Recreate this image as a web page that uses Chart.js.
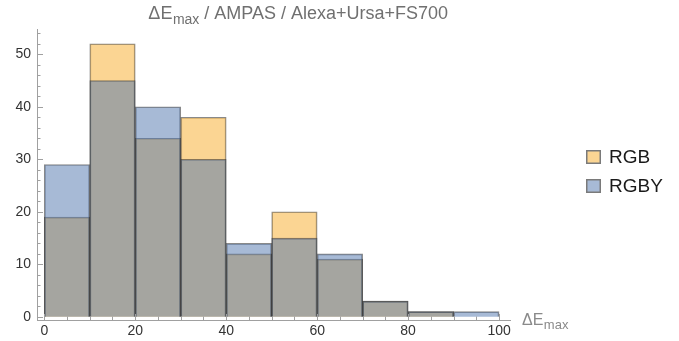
<!DOCTYPE html>
<html>
<head>
<meta charset="utf-8">
<script src="https://cdn.jsdelivr.net/npm/chart.js@4/dist/chart.umd.min.js"></script>
<style>
  html, body { margin: 0; padding: 0; background: #fff; }
  #wrap { width: 679px; height: 341px; position: relative; }
</style>
</head>
<body>
<div id="wrap"><canvas id="c"></canvas></div>
<script>
// Histogram bins (ΔE_max, width 10) — bin centres
const binCenters = [5, 15, 25, 35, 45, 55, 65, 75, 85, 95];
// Counts per bin
const rgbCounts  = [19, 52, 34, 38, 12, 20, 11, 3, 1, 0];
const rgbyCounts = [29, 45, 40, 30, 14, 15, 12, 3, 1, 1];
const seriesNames = ['RGB', 'RGBY'];
// Axis ticks
const xMajorTicks = [0, 20, 40, 60, 80, 100];
const yMajorTicks = [0, 10, 20, 30, 40, 50];
const xMinorStep = 5;
const yMinorStep = 2;

const FONT = '"Liberation Sans", Arial, sans-serif';
const fills = ['rgba(247,172,40,0.5)', 'rgba(80,117,174,0.5)'];
const swatchFills = ['rgb(251,213,147)', 'rgb(167,186,214)'];
const AXIS_COLOR = '#a0a0a0';

function toPoints(vals) {
  return binCenters.map((x, i) => ({ x: x, y: vals[i] }));
}

// Draws "ΔE" with a subscript "max", followed by optional trailing text
function drawSubText(ctx, x, y, size, subSize, subDrop, tail, color, align) {
  ctx.save();
  ctx.fillStyle = color;
  ctx.textBaseline = 'alphabetic';
  ctx.font = size + 'px ' + FONT;
  const w1 = ctx.measureText('ΔE').width;
  ctx.font = subSize + 'px ' + FONT;
  const w2 = ctx.measureText('max').width;
  ctx.font = size + 'px ' + FONT;
  const w3 = tail ? ctx.measureText(tail).width : 0;
  const total = w1 + w2 + w3;
  const sx = align === 'center' ? x - total / 2 : x;
  ctx.textAlign = 'left';
  ctx.fillText('ΔE', sx, y);
  ctx.font = subSize + 'px ' + FONT;
  ctx.fillText('max', sx + w1 + 0.5, y + subDrop);
  if (tail) {
    ctx.font = size + 'px ' + FONT;
    ctx.fillText(tail, sx + w1 + w2 + 0.5, y);
  }
  ctx.restore();
}

const decorations = {
  id: 'decorations',
  afterDraw(chart) {
    const ctx = chart.ctx;
    const xs = chart.scales.x, ys = chart.scales.y;
    const area = chart.chartArea;
    ctx.save();
    ctx.strokeStyle = AXIS_COLOR;
    ctx.lineWidth = 1;
    // x ticks pointing up into the plot
    for (let v = 0; v <= 100; v += xMinorStep) {
      const px = Math.round(xs.getPixelForValue(v)) + 0.5;
      const len = (v % 20 === 0) ? 6 : 3.5;
      ctx.beginPath();
      ctx.moveTo(px, area.bottom);
      ctx.lineTo(px, area.bottom - len);
      ctx.stroke();
    }
    // y ticks pointing right into the plot
    for (let v = 0; v <= 54; v += yMinorStep) {
      const py = Math.round(ys.getPixelForValue(v)) + 0.5;
      const len = (v % 10 === 0) ? 6 : 3.5;
      ctx.beginPath();
      ctx.moveTo(area.left, py);
      ctx.lineTo(area.left + len, py);
      ctx.stroke();
    }
    ctx.restore();

    // title
    drawSubText(ctx, 298, 19, 18, 14, 5, ' / AMPAS / Alexa+Ursa+FS700', '#707070', 'center');
    // x axis label
    drawSubText(ctx, 522, 325, 16, 13, 4, '', '#8a8a8a', 'left');

    // legend
    ctx.save();
    const lx = 586, ly = [150, 179];
    seriesNames.forEach((name, i) => {
      ctx.fillStyle = swatchFills[i];
      ctx.fillRect(lx, ly[i], 15, 14);
      ctx.strokeStyle = '#7a7a7a';
      ctx.lineWidth = 1.5;
      ctx.strokeRect(lx + 0.75, ly[i] + 0.75, 13.5, 12.5);
      ctx.fillStyle = '#1a1a1a';
      ctx.font = '19px ' + FONT;
      ctx.textBaseline = 'middle';
      ctx.textAlign = 'left';
      ctx.fillText(name, lx + 23, ly[i] + 7.5);
    });
    ctx.restore();
  }
};

new Chart(document.getElementById('c'), {
  type: 'bar',
  data: {
    datasets: [
      {
        label: seriesNames[0],
        data: toPoints(rgbCounts),
        backgroundColor: fills[0],
        borderColor: 'rgba(40,40,40,0.55)',
        borderWidth: 1,
        order: 2
      },
      {
        label: seriesNames[1],
        data: toPoints(rgbyCounts),
        backgroundColor: fills[1],
        borderColor: 'rgba(40,40,40,0.55)',
        borderWidth: 1,
        order: 1
      }
    ]
  },
  options: {
    responsive: true,
    maintainAspectRatio: false,
    animation: false,
    events: [],
    layout: { padding: { top: 29, right: 169, left: 0, bottom: 0 } },
    datasets: {
      bar: { grouped: false, barPercentage: 1, categoryPercentage: 1 }
    },
    plugins: {
      legend: { display: false },
      title: { display: false },
      tooltip: { enabled: false }
    },
    scales: {
      x: {
        type: 'linear',
        offset: false,
        min: -1.6,
        max: 102.4,
        afterBuildTicks(scale) { scale.ticks = xMajorTicks.map(v => ({ value: v })); },
        afterFit(scale) { scale.height = 21; },
        grid: { display: false, drawTicks: false, offset: false },
        border: { display: true, color: AXIS_COLOR, width: 1 },
        ticks: {
          padding: 3,
          color: '#333',
          font: { family: FONT, size: 14 },
          maxRotation: 0,
          autoSkip: false
        }
      },
      y: {
        type: 'linear',
        min: -0.6,
        max: 54.8,
        afterBuildTicks(scale) { scale.ticks = yMajorTicks.map(v => ({ value: v })); },
        afterFit(scale) { scale.width = 37; },
        grid: { display: false, drawTicks: false },
        border: { display: true, color: AXIS_COLOR, width: 1 },
        ticks: {
          padding: 6,
          color: '#333',
          font: { family: FONT, size: 14 },
          autoSkip: false
        }
      }
    }
  },
  plugins: [decorations]
});
</script>
</body>
</html>
